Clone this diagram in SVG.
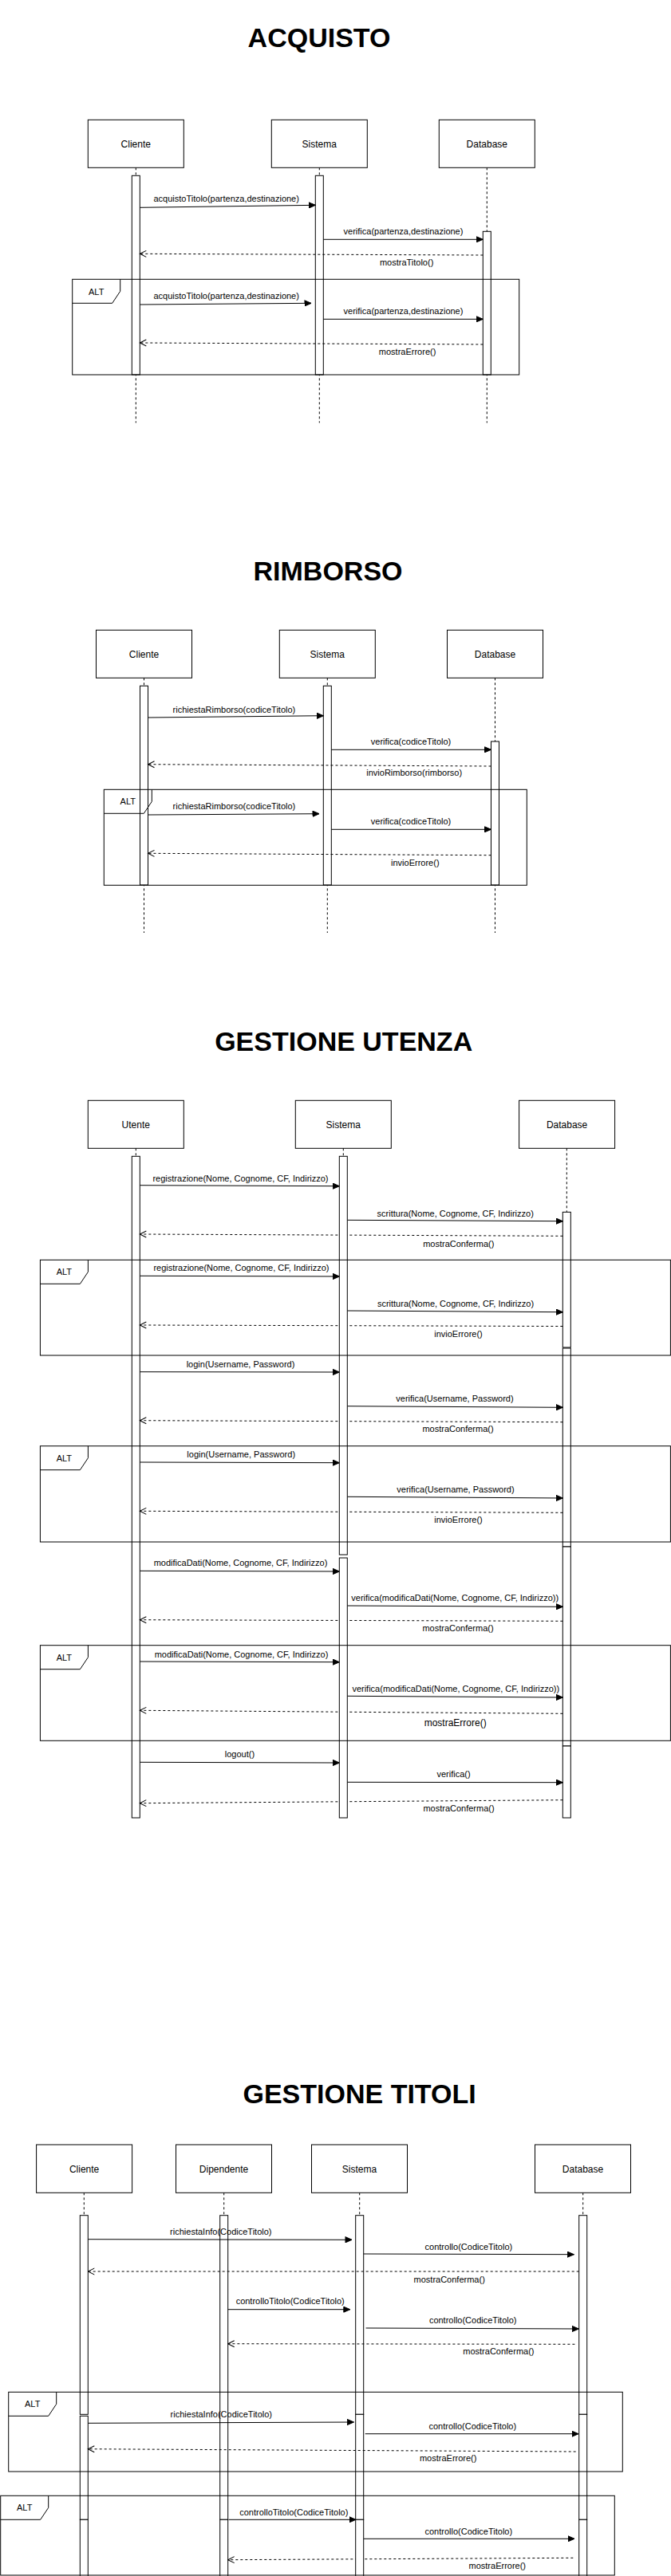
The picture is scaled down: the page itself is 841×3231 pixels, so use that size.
<svg xmlns="http://www.w3.org/2000/svg" width="841" height="3231" viewBox="0 0 841 3231">
<style>
text{font-family:"Liberation Sans",Arial,Helvetica,sans-serif;fill:#000;text-anchor:middle}
.title{font-size:34px;font-weight:bold}
.name{font-size:12px}
.alt{font-size:11px}
.m{font-size:11px}
.m12{font-size:12px}
.box{fill:#fff;stroke:#000;stroke-width:1}
.bar{fill:#fff;stroke:#000;stroke-width:1}
.life{stroke:#000;stroke-width:1;stroke-dasharray:3 3;fill:none}
.frame{fill:none;stroke:#000;stroke-width:1}
.call{stroke:#000;stroke-width:1;fill:none;marker-end:url(#block)}
.ret{stroke:#000;stroke-width:1;fill:none;stroke-dasharray:3 3;marker-end:url(#open)}
</style>
<defs>
<marker id="block" markerUnits="userSpaceOnUse" markerWidth="9" markerHeight="8" viewBox="0 0 9 8" refX="8.5" refY="4" orient="auto"><path d="M0.5,0.5 L8.5,4 L0.5,7.5 Z" fill="#000" stroke="#000" stroke-width="1"/></marker>
<marker id="open" markerUnits="userSpaceOnUse" markerWidth="10" markerHeight="10" viewBox="0 0 10 10" refX="9" refY="5" orient="auto"><path d="M1,1 L9,5 L1,9" fill="none" stroke="#000" stroke-width="1"/></marker>
</defs>
<rect x="0" y="0" width="841" height="3231" fill="#fff"/>

<!-- ===== ACQUISTO ===== -->
<text id="title-acquisto" class="title" x="400" y="58.5">ACQUISTO</text>
<g id="acq-cliente"><rect class="box" x="110.3" y="150.3" width="120" height="60"/><text class="name" x="170.3" y="184.6">Cliente</text><line class="life" x1="170.3" y1="210.3" x2="170.3" y2="530.4"/><rect class="bar" x="165.3" y="220.3" width="10" height="249.7"/></g>
<g id="acq-sistema"><rect class="box" x="340.3" y="150.3" width="120" height="60"/><text class="name" x="400.3" y="184.6">Sistema</text><line class="life" x1="400.3" y1="210.3" x2="400.3" y2="530.4"/><rect class="bar" x="395.3" y="220.3" width="10" height="249.7"/></g>
<g id="acq-database"><rect class="box" x="550.3" y="150.3" width="120" height="60"/><text class="name" x="610.3" y="184.6">Database</text><line class="life" x1="610.3" y1="210.3" x2="610.3" y2="530.4"/><rect class="bar" x="605.3" y="290.3" width="10" height="179.7"/></g>

<!-- ===== RIMBORSO ===== -->
<text id="title-rimborso" class="title" x="411" y="727.7">RIMBORSO</text>
<g id="rim-cliente"><rect class="box" x="120.5" y="790.3" width="120" height="60"/><text class="name" x="180.5" y="825">Cliente</text><line class="life" x1="180.5" y1="850.3" x2="180.5" y2="1170"/><rect class="bar" x="175.5" y="860.3" width="10" height="249.7"/></g>
<g id="rim-sistema"><rect class="box" x="350.3" y="790.3" width="120" height="60"/><text class="name" x="410.3" y="825">Sistema</text><line class="life" x1="410.3" y1="850.3" x2="410.3" y2="1170"/><rect class="bar" x="405.3" y="860.3" width="10" height="249.7"/></g>
<g id="rim-database"><rect class="box" x="560.5" y="790.3" width="120" height="60"/><text class="name" x="620.5" y="825">Database</text><line class="life" x1="620.5" y1="850.3" x2="620.5" y2="1170"/><rect class="bar" x="615.5" y="930" width="10" height="180"/></g>

<!-- ===== GESTIONE UTENZA ===== -->
<text id="title-utenza" class="title" x="430.7" y="1317.7">GESTIONE UTENZA</text>
<g id="ute-utente"><rect class="box" x="110.3" y="1380.3" width="120" height="60"/><text class="name" x="170.3" y="1415">Utente</text><line class="life" x1="170.3" y1="1440.3" x2="170.3" y2="1450.3"/><rect class="bar" x="165.3" y="1450.3" width="10" height="829.7"/></g>
<g id="ute-database"><rect class="box" x="650.6" y="1380.3" width="120" height="60"/><text class="name" x="710.6" y="1415">Database</text><line class="life" x1="710.3" y1="1440.3" x2="710.3" y2="1520.3"/><rect class="bar" x="705.3" y="1520.3" width="10" height="169.7"/><rect class="bar" x="705.3" y="1691" width="10" height="249"/><rect class="bar" x="705.3" y="1940" width="10" height="250"/><rect class="bar" x="705.3" y="2190" width="10" height="90"/></g>

<!-- ===== GESTIONE TITOLI ===== -->
<text id="title-titoli" class="title" x="450.6" y="2637.7">GESTIONE TITOLI</text>
<g id="tit-cliente"><rect class="box" x="45.6" y="2690" width="120" height="60.3"/><text class="name" x="105.6" y="2725">Cliente</text><line class="life" x1="105.3" y1="2750.3" x2="105.3" y2="2778.7"/><rect class="bar" x="100.3" y="2778.7" width="10" height="249.6"/><rect class="bar" x="100.3" y="3030.3" width="10" height="130"/><rect class="bar" x="100.3" y="3160.3" width="10" height="80"/></g>
<g id="tit-dipendente"><rect class="box" x="220.5" y="2690" width="120" height="60.3"/><text class="name" x="280.5" y="2725">Dipendente</text><line class="life" x1="280.7" y1="2750.3" x2="280.7" y2="2778.7"/><rect class="bar" x="275.7" y="2778.7" width="10" height="381.6"/><rect class="bar" x="275.7" y="3160.3" width="10" height="80"/></g>
<g id="tit-sistema"><rect class="box" x="390.5" y="2690" width="120" height="60.3"/><text class="name" x="450.5" y="2725">Sistema</text><line class="life" x1="450.7" y1="2750.3" x2="450.7" y2="2778.7"/><rect class="bar" x="445.7" y="2778.7" width="10" height="249.6"/><rect class="bar" x="445.7" y="3028.3" width="10" height="132"/></g>
<g id="tit-database"><rect class="box" x="670.5" y="2690" width="120" height="60.3"/><text class="name" x="730.5" y="2725">Database</text><line class="life" x1="730.7" y1="2750.3" x2="730.7" y2="2778.7"/><rect class="bar" x="725.7" y="2778.7" width="10" height="249.6"/><rect class="bar" x="725.7" y="3028.3" width="10" height="132"/><rect class="bar" x="725.7" y="3160.3" width="10" height="80"/></g>

<g id="connectors">
<!-- ACQUISTO -->
<line class="call" x1="175.3" y1="260.3" x2="395.3" y2="257.3"/><text class="m" x="283.7" y="253.3">acquistoTitolo(partenza,destinazione)</text>
<line class="call" x1="405.3" y1="300.3" x2="605.3" y2="300.3"/><text class="m" x="505.5" y="294.3">verifica(partenza,destinazione)</text>
<line class="ret" x1="605.3" y1="320" x2="175.3" y2="318.3"/><text class="m" x="509.6" y="333.3">mostraTitolo()</text>
<line class="call" x1="175.3" y1="382" x2="390" y2="380.3"/><text class="m" x="283.7" y="375">acquistoTitolo(partenza,destinazione)</text>
<line class="call" x1="405.3" y1="400.3" x2="605.3" y2="400.3"/><text class="m" x="505.5" y="394.3">verifica(partenza,destinazione)</text>
<line class="ret" x1="605.3" y1="432" x2="175.3" y2="430"/><text class="m" x="510.6" y="445">mostraErrore()</text>
<!-- RIMBORSO -->
<line class="call" x1="185.5" y1="900" x2="405.3" y2="897.7"/><text class="m" x="293.4" y="893.7">richiestaRimborso(codiceTitolo)</text>
<line class="call" x1="415.3" y1="940.3" x2="615.5" y2="940.3"/><text class="m" x="515" y="934.3">verifica(codiceTitolo)</text>
<line class="ret" x1="615.5" y1="961" x2="185.5" y2="958.7"/><text class="m" x="519.2" y="973.3">invioRimborso(rimborso)</text>
<line class="call" x1="185.5" y1="1022" x2="400" y2="1020.7"/><text class="m" x="293.4" y="1015.3">richiestaRimborso(codiceTitolo)</text>
<line class="call" x1="415.3" y1="1040.3" x2="615.5" y2="1040.3"/><text class="m" x="515" y="1034.3">verifica(codiceTitolo)</text>
<line class="ret" x1="615.5" y1="1072.7" x2="185.5" y2="1070.3"/><text class="m" x="520.3" y="1085.7">invioErrore()</text>
<!-- GESTIONE UTENZA -->
<line class="call" x1="175.3" y1="1486.7" x2="425.3" y2="1487.7"/><text class="m" x="301.5" y="1481.7">registrazione(Nome, Cognome, CF, Indirizzo)</text>
<line class="call" x1="435.3" y1="1530.3" x2="705.3" y2="1531.7"/><text class="m" x="570.7" y="1525.8">scrittura(Nome, Cognome, CF, Indirizzo)</text>
<line class="ret" x1="705.3" y1="1550.3" x2="175.3" y2="1548"/><text class="m" x="574.8" y="1563.9">mostraConferma()</text>
<line class="call" x1="175.3" y1="1600.3" x2="425.3" y2="1601"/><text class="m" x="302.5" y="1594.3">registrazione(Nome, Cognome, CF, Indirizzo)</text>
<line class="call" x1="435.3" y1="1644" x2="705.3" y2="1645.7"/><text class="m" x="571" y="1639">scrittura(Nome, Cognome, CF, Indirizzo)</text>
<line class="ret" x1="705.3" y1="1663.5" x2="175.3" y2="1662"/><text class="m" x="574.5" y="1676.7">invioErrore()</text>
<line class="call" x1="175.3" y1="1720.7" x2="425.3" y2="1721"/><text class="m" x="301.5" y="1714.7">login(Username, Password)</text>
<line class="call" x1="435.3" y1="1763.7" x2="705.3" y2="1765.3"/><text class="m" x="570" y="1758.3">verifica(Username, Password)</text>
<line class="ret" x1="705.3" y1="1783.7" x2="175.3" y2="1781.7"/><text class="m" x="574" y="1796.3">mostraConferma()</text>
<line class="call" x1="175.3" y1="1834" x2="425.3" y2="1834.7"/><text class="m" x="302.2" y="1828.3">login(Username, Password)</text>
<line class="call" x1="435.3" y1="1877.3" x2="705.3" y2="1879"/><text class="m" x="571" y="1872.3">verifica(Username, Password)</text>
<line class="ret" x1="705.3" y1="1897.3" x2="175.3" y2="1895.3"/><text class="m" x="574.5" y="1910.3">invioErrore()</text>
<line class="call" x1="175.3" y1="1970.3" x2="425.3" y2="1971"/><text class="m" x="301.5" y="1964.3">modificaDati(Nome, Cognome, CF, Indirizzo)</text>
<line class="call" x1="435.3" y1="2014" x2="705.3" y2="2015.3"/><text class="m" x="570.2" y="2008.3">verifica(modificaDati(Nome, Cognome, CF, Indirizzo))</text>
<line class="ret" x1="705.3" y1="2033.3" x2="175.3" y2="2031.7"/><text class="m" x="574" y="2046.3">mostraConferma()</text>
<line class="call" x1="175.3" y1="2084" x2="425.3" y2="2084.7"/><text class="m" x="302.5" y="2078.7">modificaDati(Nome, Cognome, CF, Indirizzo)</text>
<line class="call" x1="435.3" y1="2127.3" x2="705.3" y2="2129"/><text class="m" x="571.3" y="2122.3">verifica(modificaDati(Nome, Cognome, CF, Indirizzo))</text>
<line class="ret" x1="705.3" y1="2149.3" x2="175.3" y2="2145.3"/><text class="m12" x="570.7" y="2165">mostraErrore()</text>
<line class="call" x1="175.3" y1="2210.3" x2="425.3" y2="2211"/><text class="m" x="300.4" y="2204.3">logout()</text>
<line class="call" x1="435.3" y1="2235.3" x2="705.3" y2="2235.7"/><text class="m" x="568.6" y="2229.3">verifica()</text>
<line class="ret" x1="705.3" y1="2257.7" x2="175.3" y2="2261.7"/><text class="m" x="575" y="2272">mostraConferma()</text>
<!-- GESTIONE TITOLI -->
<line class="call" x1="110.3" y1="2808.7" x2="441" y2="2809.3"/><text class="m" x="276.8" y="2803.3">richiestaInfo(CodiceTitolo)</text>
<line class="call" x1="455.7" y1="2827" x2="719.3" y2="2827.7"/><text class="m" x="587.4" y="2821.7">controllo(CodiceTitolo)</text>
<line class="ret" x1="725.7" y1="2849" x2="110.3" y2="2849"/><text class="m" x="563.2" y="2863.3">mostraConferma()</text>
<line class="call" x1="285.7" y1="2896.7" x2="438.8" y2="2896.7"/><text class="m" x="363.7" y="2889.7">controlloTitolo(CodiceTitolo)</text>
<line class="call" x1="458.6" y1="2920" x2="725.2" y2="2921"/><text class="m" x="592.7" y="2914">controllo(CodiceTitolo)</text>
<line class="ret" x1="720.4" y1="2940.3" x2="285.7" y2="2939.7"/><text class="m" x="624.9" y="2953.3">mostraConferma()</text>
<line class="call" x1="110.3" y1="3039.3" x2="443.3" y2="3038"/><text class="m" x="277.3" y="3032.3">richiestaInfo(CodiceTitolo)</text>
<line class="call" x1="457.7" y1="3052.7" x2="725" y2="3052.7"/><text class="m" x="592.3" y="3047.3">controllo(CodiceTitolo)</text>
<line class="ret" x1="721.7" y1="3075" x2="110.3" y2="3071.7"/><text class="m" x="561.7" y="3087.3">mostraErrore()</text>
<line class="call" x1="286.7" y1="3160.3" x2="446" y2="3160.3"/><text class="m" x="368.3" y="3154.7">controlloTitolo(CodiceTitolo)</text>
<line class="call" x1="455.7" y1="3184.3" x2="720" y2="3184.3"/><text class="m" x="587.3" y="3178.7">controllo(CodiceTitolo)</text>
<line class="ret" x1="718.3" y1="3208.3" x2="285.7" y2="3210.7"/><text class="m" x="623.3" y="3222.3">mostraErrore()</text>
</g>

<!-- lifelines drawn above some return messages -->
<g id="ute-sistema"><rect class="box" x="370.3" y="1380.3" width="120" height="60"/><text class="name" x="430.3" y="1415">Sistema</text><line class="life" x1="430.3" y1="1440.3" x2="430.3" y2="1450.3"/><rect class="bar" x="425.3" y="1450.3" width="10" height="499.7"/><rect class="bar" x="425.3" y="1954" width="10" height="326"/></g>
<g id="tit-sistema-end"><rect class="bar" x="445.7" y="3160.3" width="10" height="80"/></g>

<!-- ALT frames -->
<g id="acq-alt"><rect class="frame" x="90.7" y="350.3" width="560" height="119.7"/><path class="frame" d="M90.7,380.3 L140.7,380.3 L150.7,365.3 L150.7,350.3"/><text class="alt" x="120.7" y="369.5">ALT</text></g>
<g id="rim-alt"><rect class="frame" x="130.3" y="990.3" width="530" height="120"/><path class="frame" d="M130.3,1020.3 L180.3,1020.3 L190.3,1005.3 L190.3,990.3"/><text class="alt" x="160.3" y="1009.3">ALT</text></g>
<g id="ute-alt1"><rect class="frame" x="50.4" y="1580.3" width="790" height="119.7"/><path class="frame" d="M50.4,1610.3 L100.4,1610.3 L110.4,1595.3 L110.4,1580.3"/><text class="alt" x="80.4" y="1599.3">ALT</text></g>
<g id="ute-alt2"><rect class="frame" x="50.4" y="1813.7" width="790" height="120.3"/><path class="frame" d="M50.4,1843.7 L100.4,1843.7 L110.4,1828.7 L110.4,1813.7"/><text class="alt" x="80.4" y="1832.7">ALT</text></g>
<g id="ute-alt3"><rect class="frame" x="50.4" y="2063.7" width="790" height="119.6"/><path class="frame" d="M50.4,2093.7 L100.4,2093.7 L110.4,2078.7 L110.4,2063.7"/><text class="alt" x="80.4" y="2082.7">ALT</text></g>
<g id="tit-alt1"><rect class="frame" x="10.7" y="3000.3" width="769.6" height="99.7"/><path class="frame" d="M10.7,3030.3 L60.7,3030.3 L70.7,3015.3 L70.7,3000.3"/><text class="alt" x="40.7" y="3019.3">ALT</text></g>
<g id="tit-alt2"><rect class="frame" x="0.7" y="3130.3" width="769.6" height="99.7"/><path class="frame" d="M0.7,3160.3 L50.7,3160.3 L60.7,3145.3 L60.7,3130.3"/><text class="alt" x="30.7" y="3149.3">ALT</text></g>
</svg>
